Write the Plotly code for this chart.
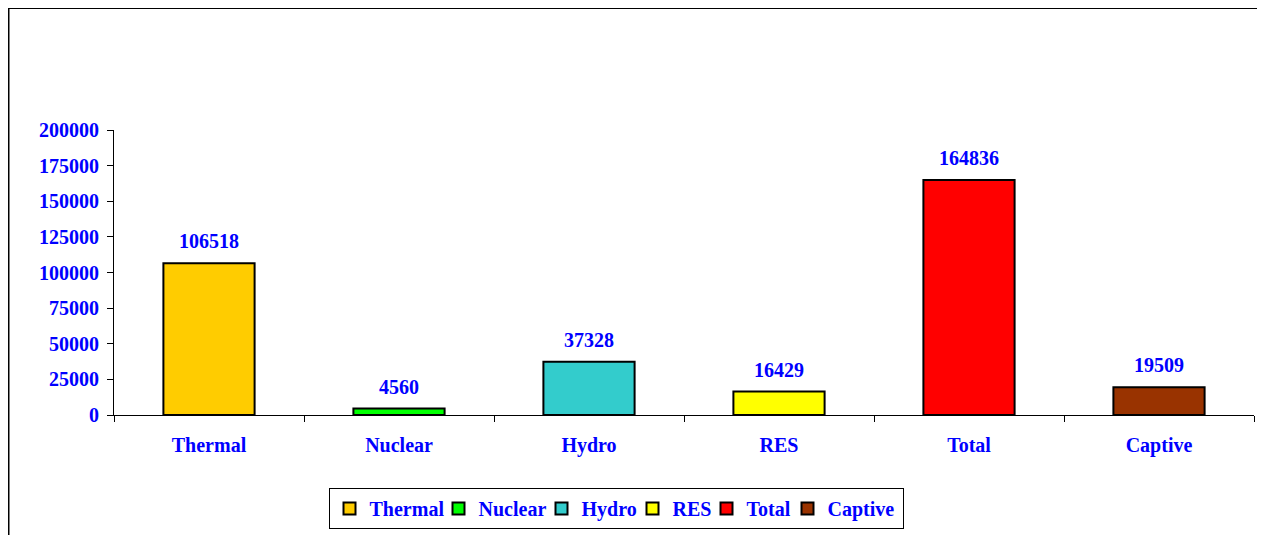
import plotly.graph_objects as go

categories = ["Thermal", "Nuclear", "Hydro", "RES", "Total", "Captive"]
values = [106518, 4560, 37328, 16429, 164836, 19509]
colors = ["#FFCC00", "#00FF00", "#33CCCC", "#FFFF00", "#FF0000", "#993300"]
y_ticks = [0, 25000, 50000, 75000, 100000, 125000, 150000, 175000, 200000]

# legend entry widths (px) to make the legend compact like the reference
legend_widths = [64, 58, 46, 29, 36, 70]

FONT = dict(family="Liberation Serif, Times New Roman, serif", size=20, color="#0000FF", weight="bold")

fig = go.Figure()
for c, v, col, lw in zip(categories, values, colors, legend_widths):
    fig.add_trace(go.Bar(
        x=[c], y=[v], name=c, width=0.48, legendwidth=lw,
        marker=dict(color=col, line=dict(color="black", width=2)),
    ))
    fig.add_annotation(x=c, y=v, text=str(v), showarrow=False, yanchor="bottom",
                       yshift=9, font=FONT)

# page has an 8px body margin; figure coordinates are page coordinates minus 8
W, H = 1257, 527
L, R, T, B = 106, 11, 122, 120
pw, ph = W - L - R, H - T - B

fig.update_layout(
    width=W, height=H,
    margin=dict(l=L, r=R, t=T, b=B, autoexpand=False),
    paper_bgcolor="white", plot_bgcolor="white",
    barmode="overlay",
    font=FONT,
    showlegend=True,
    legend=dict(orientation="h", x=(608 - L) / pw, xanchor="center",
                y=(H - B - 480) / ph, yanchor="top",
                bordercolor="black", borderwidth=1, bgcolor="white",
                font=FONT, itemwidth=30, traceorder="normal"),
    xaxis=dict(categoryorder="array", categoryarray=categories, automargin=False,
               showline=True, linecolor="black", linewidth=1,
               ticks="outside", tickson="boundaries", ticklen=6, tickcolor="black",
               tickfont=FONT, showgrid=False, ticklabelstandoff=12),
    yaxis=dict(range=[0, 200000], tickvals=y_ticks, ticktext=[str(t) for t in y_ticks],
               automargin=False,
               showline=True, linecolor="black", linewidth=1,
               ticks="outside", ticklen=6, tickcolor="black",
               tickfont=FONT, showgrid=False, zeroline=False, ticklabelstandoff=4),
    shapes=[
        dict(type="line", xref="paper", yref="paper",
             x0=(0 - L) / pw, x1=(W - L) / pw, y0=(H - B) / ph, y1=(H - B) / ph,
             line=dict(color="black", width=2)),
        dict(type="line", xref="paper", yref="paper",
             x0=(0.5 - L) / pw, x1=(0.5 - L) / pw, y0=(H - B) / ph, y1=(H - B - H) / ph,
             line=dict(color="black", width=2)),
    ],
)

fig.write_html("out.html")
